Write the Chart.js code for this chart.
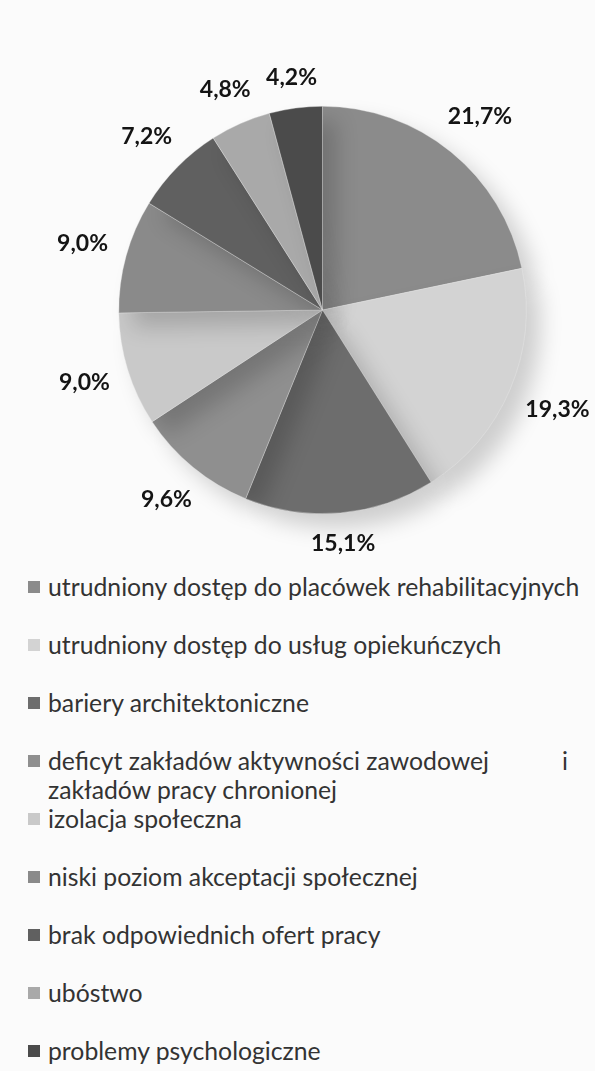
<!DOCTYPE html>
<html>
<head>
<meta charset="utf-8">
<script src="https://cdn.jsdelivr.net/npm/chart.js@4.4.1/dist/chart.umd.min.js"></script>
<style>
  html, body {
    margin: 0;
    padding: 0;
    background: #fbfbfb;
    width: 595px;
    height: 1071px;
    overflow: hidden;
  }
  #wrap {
    position: relative;
    width: 595px;
    height: 560px;
  }
  #legend {
    margin: 12px 0 0 0;
    padding: 0;
    list-style: none;
    font-family: Lato, sans-serif;
    color: #333333;
    line-height: 29px;
  }
  #legend li {
    position: relative;
    padding-left: 48px;
    margin-bottom: 29px;
  }
  #legend li.tight {
    margin-bottom: 0;
  }
  #legend .box {
    position: absolute;
    left: 28px;
    top: 9px;
    width: 12px;
    height: 12px;
  }
  #legend .row {
    display: flex;
    justify-content: space-between;
    width: 520px;
  }
</style>
</head>
<body>
<div id="wrap"><canvas id="chart" width="595" height="560"></canvas></div>
<ul id="legend"></ul>
<script>
const CATEGORIES = [
  'utrudniony dostęp do placówek rehabilitacyjnych',
  'utrudniony dostęp do usług opiekuńczych',
  'bariery architektoniczne',
  ['deficyt zakładów aktywności zawodowej i', 'zakładów pracy chronionej'],
  'izolacja społeczna',
  'niski poziom akceptacji społecznej',
  'brak odpowiednich ofert pracy',
  'ubóstwo',
  'problemy psychologiczne',
];

const SHARES = [21.7, 19.3, 15.1, 9.6, 9.0, 9.0, 7.2, 4.8, 4.2];

const SLICE_COLORS = [
  '#8b8b8b',
  '#d3d3d3',
  '#6d6d6d',
  '#8f8f8f',
  '#c9c9c9',
  '#8a8a8a',
  '#606060',
  '#a9a9a9',
  '#4b4b4b',
];

function formatShare(value) {
  return `${value.toFixed(1).replace('.', ',')}%`;
}

// soft drop shadow under the pie, like the scanned original
const shadowPlugin = {
  id: 'pieShadow',
  beforeDatasetsDraw(chart) {
    const ctx = chart.ctx;
    ctx.save();
    ctx.shadowColor = 'rgba(0, 0, 0, 0.18)';
    ctx.shadowBlur = 22;
    ctx.shadowOffsetX = 14;
    ctx.shadowOffsetY = 14;
  },
  afterDatasetsDraw(chart) {
    chart.ctx.restore();
  },
};

// percentage labels outside each slice
const outsideLabels = {
  id: 'outsideLabels',
  afterDraw(chart) {
    const ctx = chart.ctx;
    const meta = chart.getDatasetMeta(0);
    ctx.save();
    ctx.font = 'bold 23px Lato, sans-serif';
    ctx.fillStyle = '#141414';
    ctx.textAlign = 'center';
    ctx.textBaseline = 'middle';
    meta.data.forEach((arc, index) => {
      const { x, y, startAngle, endAngle, outerRadius } = arc.getProps(['x', 'y', 'startAngle', 'endAngle', 'outerRadius'], true);
      const mid = (startAngle + endAngle) / 2;
      const text = formatShare(SHARES[index]);
      const width = ctx.measureText(text).width;
      const height = 20;
      const cos = Math.cos(mid);
      const sin = Math.sin(mid);
      const dist = outerRadius + 18 + Math.abs(cos) * width / 2 + Math.abs(sin) * height / 2;
      ctx.fillText(text, x + cos * dist, y + sin * dist);
    });
    ctx.restore();
  },
};

const chart = new Chart(document.getElementById('chart'), {
  type: 'pie',
  data: {
    labels: CATEGORIES,
    datasets: [{
      data: SHARES,
      backgroundColor: SLICE_COLORS,
      borderColor: 'rgba(235, 235, 235, 0.6)',
      borderWidth: 0.6,
    }],
  },
  options: {
    responsive: false,
    animation: false,
    layout: {
      padding: { top: 106, bottom: 46, left: 50, right: 0 },
    },
    plugins: {
      legend: { display: false },
      tooltip: { enabled: false },
    },
  },
  plugins: [shadowPlugin, outsideLabels],
});

function buildLegend(chart) {
  const list = document.getElementById('legend');
  const measure = document.createElement('canvas').getContext('2d');
  measure.font = '20px Lato, sans-serif';
  const firstWidth = measure.measureText(CATEGORIES[0]).width;
  const fontSize = 20 * 532 / firstWidth;
  list.style.fontSize = `${fontSize.toFixed(2)}px`;

  chart.data.labels.forEach((label, index) => {
    const item = document.createElement('li');
    const box = document.createElement('span');
    box.className = 'box';
    box.style.background = chart.data.datasets[0].backgroundColor[index];
    item.appendChild(box);
    const lines = Array.isArray(label) ? label : [label];
    if (lines.length > 1) {
      item.className = 'tight';
    }
    lines.forEach((line, lineIndex) => {
      const row = document.createElement('div');
      if (lineIndex === 0 && lines.length > 1 && line.endsWith(' i')) {
        row.className = 'row';
        const left = document.createElement('span');
        left.textContent = line.slice(0, -2);
        const right = document.createElement('span');
        right.textContent = 'i';
        row.appendChild(left);
        row.appendChild(right);
      } else {
        row.textContent = line;
      }
      item.appendChild(row);
    });
    list.appendChild(item);
  });
}

buildLegend(chart);
</script>
</body>
</html>
